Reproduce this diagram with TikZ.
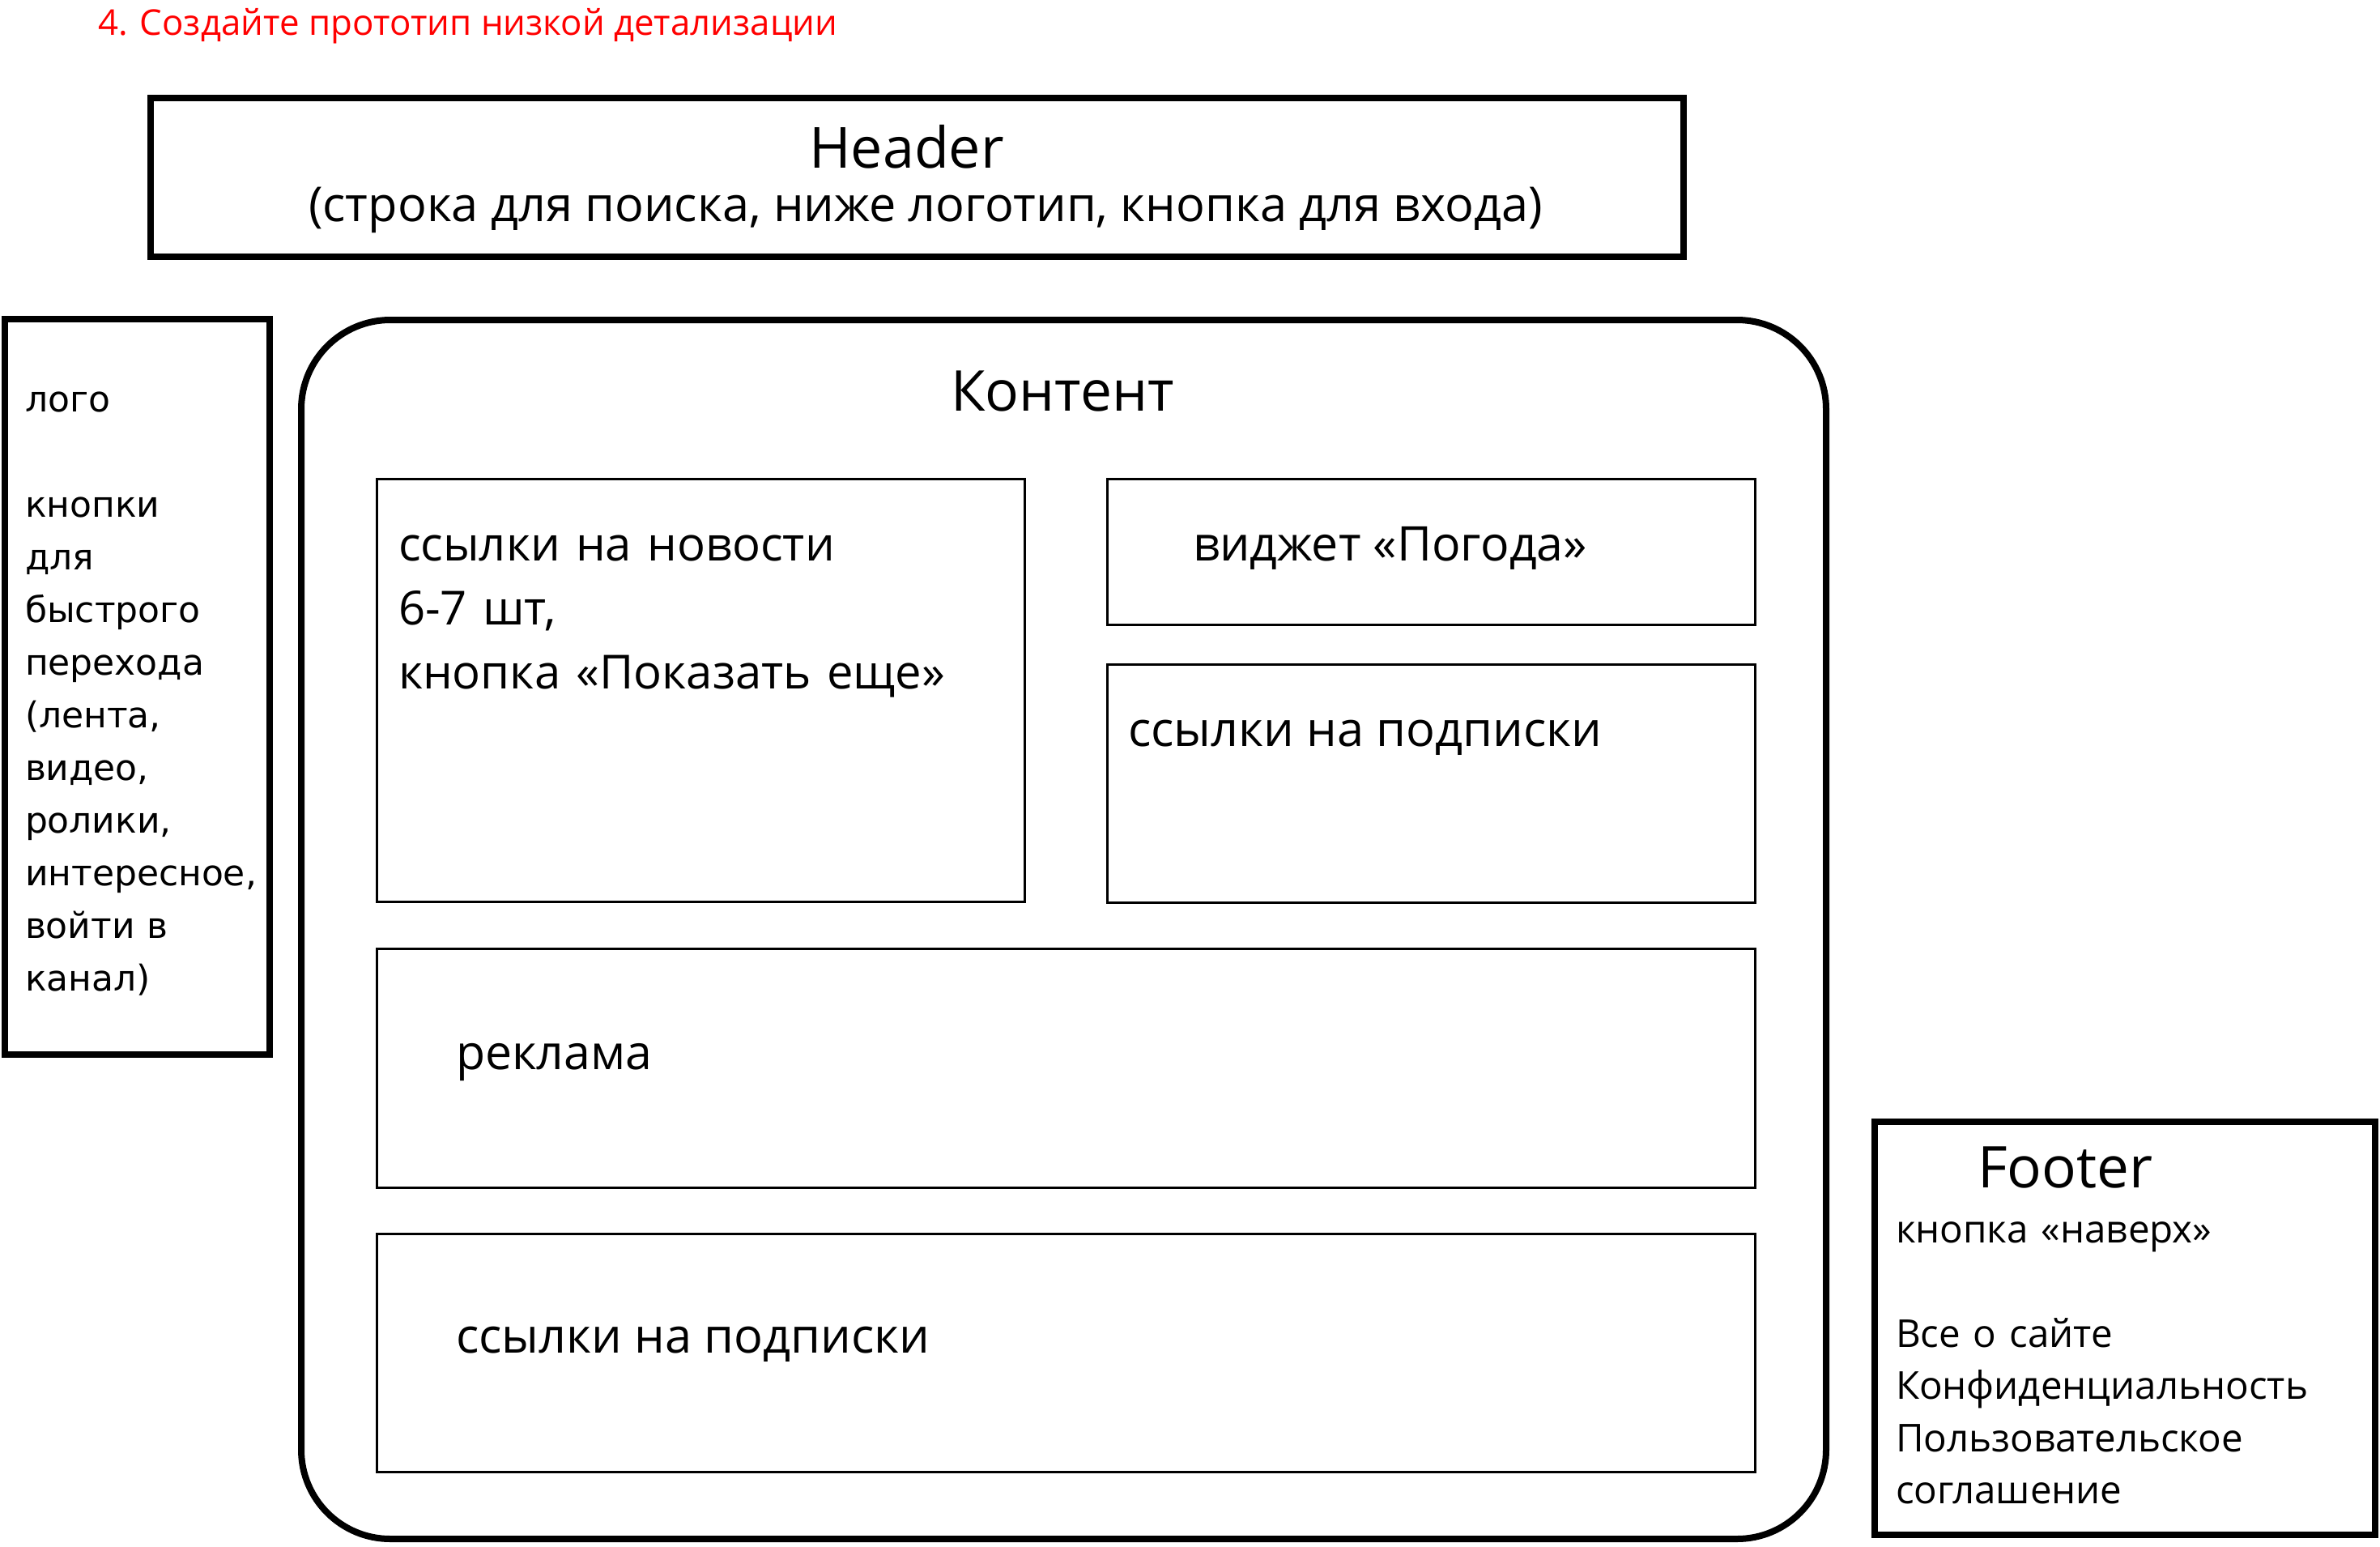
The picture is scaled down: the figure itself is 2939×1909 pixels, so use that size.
\documentclass[tikz,border=0pt]{standalone}
\usepackage{fontspec}
\setmainfont{Open Sans}
\newfontfamily\sidefont{DejaVu Sans}
\newcommand\fsz[2]{\fontsize{#1}{#2}\selectfont}
\begin{document}
\begin{tikzpicture}[x=1pt,y=-1pt,
  thickbox/.style={draw=black, line width=8pt, inner sep=0pt},
  thinbox/.style={draw=black, line width=3pt, inner sep=0pt},
  roundbox/.style={draw=black, line width=8pt, inner sep=0pt, rounded corners=110pt},
  lbl/.style={inner sep=0pt, outer sep=0pt, text=black},
  multi/.style={lbl, align=left, text width=#1}]
\useasboundingbox (0,0) rectangle (2939,1909);
% boxes
\node[thickbox, minimum width=1893pt, minimum height=196pt] (header) at (1132.5,219) {};
\node[thickbox, minimum width=327pt, minimum height=908pt] (side) at (169.5,848) {};
\node[roundbox, minimum width=1883pt, minimum height=1505pt] (content) at (1313.5,1147.5) {};
\node[thinbox, minimum width=800pt, minimum height=522pt] (news) at (865,852) {};
\node[thinbox, minimum width=800pt, minimum height=180pt] (weather) at (1767,681) {};
\node[thinbox, minimum width=800pt, minimum height=294pt] (subs) at (1767,967) {};
\node[thinbox, minimum width=1702pt, minimum height=295pt] (ads) at (1316,1318.5) {};
\node[thinbox, minimum width=1702pt, minimum height=294pt] (subs2) at (1316,1670) {};
\node[thickbox, minimum width=618pt, minimum height=510pt] (footer) at (2624,1640) {};
% texts
\node[lbl, anchor=base west, text=red, font=\fsz{43.8}{54}] (title) at (121,43) {4. Создайте прототип низкой детализации};
\node[lbl, anchor=base, font=\fsz{70}{80}] (headert) at (1119.5,207) {Header};
\node[lbl, anchor=base, font=\fsz{59.4}{68}] (headersub) at (1143,273) {(строка для поиска, ниже логотип, кнопка для входа)};
\node[lbl, anchor=base, font=\fsz{69.5}{80}] (contentt) at (1312,507) {Контент};
\node[multi=760pt, anchor=base west, font=\fsz{58}{79}] (newst) at (492,692) {ссылки на новости\\6-7 шт,\\кнопка «Показать еще»};
\node[lbl, anchor=base west, font=\fsz{59}{70}] (weathert) at (1473,692) {виджет «Погода»};
\node[lbl, anchor=base west, font=\fsz{59.5}{70}] (subst) at (1393,921) {ссылки на подписки};
\node[lbl, anchor=base west, font=\fsz{59}{70}] (adst) at (563,1320) {реклама};
\node[lbl, anchor=base west, font=\fsz{59.5}{70}] (subs2t) at (563,1670) {ссылки на подписки};
\node[lbl, anchor=base west, font=\fsz{71}{80}] (footert) at (2442,1466) {Footer};
\node[multi=580pt, anchor=base west, font=\fsz{47.5}{64.5}] (footerlist) at (2341,1534) {кнопка «наверх»\\[64.5pt]Все о сайте\\Конфиденциальность\\Пользовательское\\соглашение};
\node[multi=300pt, anchor=base west, font=\sidefont\fsz{44}{65}] (sidet) at (31,508) {лого\\[65pt]кнопки\\для\\быстрого\\перехода\\(лента,\\видео,\\ролики,\\интересное,\\войти в\\канал)};
\end{tikzpicture}
\end{document}
